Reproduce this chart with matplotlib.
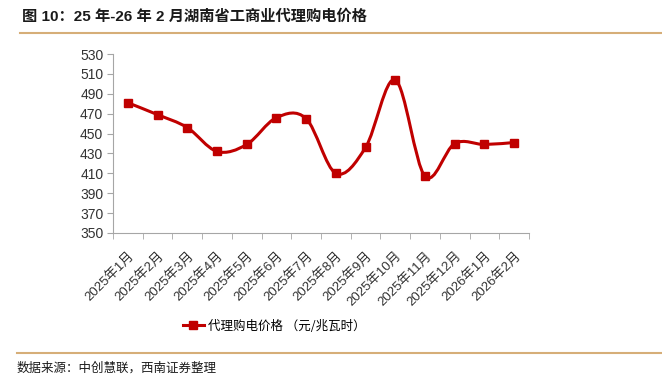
import matplotlib
matplotlib.use('Agg')
import matplotlib.pyplot as plt
from matplotlib.path import Path
from matplotlib.patches import PathPatch
from matplotlib.lines import Line2D

plt.rcParams['font.family'] = ['Liberation Sans', 'Noto Sans CJK SC', 'DejaVu Sans']

months = ['2025年1月', '2025年2月', '2025年3月', '2025年4月', '2025年5月', '2025年6月',
          '2025年7月', '2025年8月', '2025年9月', '2025年10月', '2025年11月', '2025年12月',
          '2026年1月', '2026年2月']
price = [481, 469, 456, 432, 439, 466, 465, 410, 436, 504, 407, 440, 439, 441]

red = '#C00000'
gray = '#A6A6A6'
tan = '#D6AE78'

fig = plt.figure(figsize=(6.62, 3.85), dpi=100)
ax = fig.add_axes([113 / 662, 1 - 233 / 385, (529 - 113) / 662, (233 - 54) / 385])

# smoothed line like Excel (Catmull-Rom as cubic Bezier)
xs = list(range(len(price)))
verts = [(xs[0], price[0])]
codes = [Path.MOVETO]
n = len(price)
for i in range(n - 1):
    p0 = (xs[max(i - 1, 0)], price[max(i - 1, 0)])
    p1 = (xs[i], price[i])
    p2 = (xs[i + 1], price[i + 1])
    p3 = (xs[min(i + 2, n - 1)], price[min(i + 2, n - 1)])
    c1 = (p1[0] + (p2[0] - p0[0]) / 6, p1[1] + (p2[1] - p0[1]) / 6)
    c2 = (p2[0] - (p3[0] - p1[0]) / 6, p2[1] - (p3[1] - p1[1]) / 6)
    verts += [c1, c2, p2]
    codes += [Path.CURVE4] * 3
ax.add_patch(PathPatch(Path(verts, codes), facecolor='none', edgecolor=red, lw=2.2, zorder=2))
ax.plot(xs, price, ls='none', marker='s', ms=6, color=red, zorder=3)

ax.set_xlim(-0.5, n - 0.5)
ax.set_ylim(350, 530)
ax.set_yticks(range(350, 531, 20))
ax.set_xticks(xs)
ax.set_xticklabels(months, rotation=45, ha='right', va='top', rotation_mode='anchor', fontsize=9.5, color='#333333')
ax.set_xticks([x - 0.5 for x in range(n + 1)], minor=True)
ax.tick_params(axis='x', which='major', length=0, pad=12)
ax.tick_params(axis='x', which='minor', length=4, color=gray, direction='out')
ax.tick_params(axis='y', length=4, color=gray, labelsize=10, labelcolor='#333333', pad=3)
for s in ['top', 'right']:
    ax.spines[s].set_visible(False)
for s in ['left', 'bottom']:
    ax.spines[s].set_color(gray)

handle = Line2D([], [], color=red, lw=2.2, marker='s', ms=6)
fig.legend([handle], ['代理购电价格 （元/兆瓦时）'], loc='center', bbox_to_anchor=(0.414, 1 - 326 / 385),
           frameon=False, handlelength=1.7, handletextpad=0.3,
           prop={'family': ['Noto Sans CJK SC'], 'size': 9})

fig.text(22 / 662, 1 - 17 / 385, '图 10：25 年-26 年 2 月湖南省工商业代理购电价格', fontsize=11,
         fontweight='bold', va='center', ha='left', color='#1a1a1a')
fig.add_artist(Line2D([20 / 662, 1], [1 - 32.5 / 385] * 2, color=tan, lw=1.5))
fig.add_artist(Line2D([17 / 662, 1], [1 - 353 / 385] * 2, color=tan, lw=1.5))
fig.text(17 / 662, 1 - 368 / 385, '数据来源：中创慧联，西南证券整理', fontsize=9, style='italic',
         va='center', ha='left', color='#1a1a1a', family=['Noto Sans CJK SC'])

fig.savefig('out.png', dpi=100)
